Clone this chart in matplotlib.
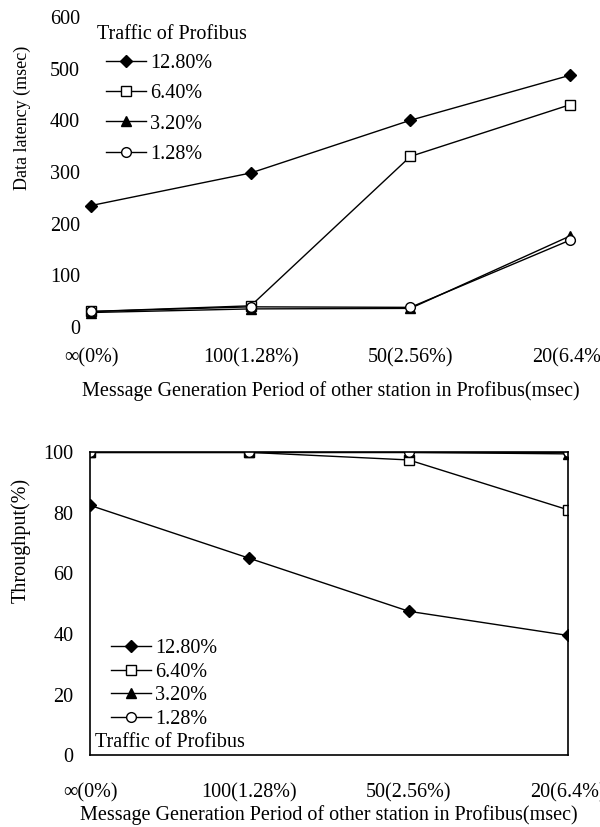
import numpy as np
import matplotlib
matplotlib.use("Agg")
import matplotlib.pyplot as plt

plt.rcParams["font.family"] = ["Liberation Serif", "DejaVu Serif"]
plt.rcParams["font.size"] = 14.5

# x categories (message generation period of other station)
periods = ["\u221e(0%)", "100(1.28%)", "50(2.56%)", "20(6.4%)"]
series = ["12.80%", "6.40%", "3.20%", "1.28%"]

# data latency (msec)
lat_128 = [235, 298, 400, 487]
lat_64 = [30, 41, 330, 430]
lat_32 = [28, 35, 36, 176]
lat_128s = [30, 39, 38, 168]

# throughput (%)
thr_128 = [82.5, 65, 47.5, 39.5]
thr_64 = [100, 100, 97.5, 81]
thr_32 = [100, 100, 100, 99.5]
thr_128s = [100, 100, 100, 100]

styles = [dict(marker="D", mfc="black", ms=6),
          dict(marker="s", mfc="white", ms=7),
          dict(marker="^", mfc="black", ms=7),
          dict(marker="o", mfc="white", ms=7)]

x = np.arange(len(periods))
xlabel = "Message Generation Period of other station in Profibus(msec)"

fig = plt.figure(figsize=(6, 8.27), dpi=100)

#-----------------------------------------------------
# top: data latency
#-----------------------------------------------------
ax1 = fig.add_axes([0.152, 0.6046, 0.798, 0.375])
for ys, lab, st in zip([lat_128, lat_64, lat_32, lat_128s], series, styles):
    ax1.plot(x, ys, color="black", lw=1, mec="black", label=lab, clip_on=False, **st)
ax1.set_xlim(0, 3)
ax1.set_ylim(0, 600)
ax1.set_yticks(np.arange(0, 601, 100))
ax1.set_xticks(x)
ax1.set_xticklabels(periods)
for s in ax1.spines.values():
    s.set_visible(False)
ax1.tick_params(axis="x", length=0, pad=15)
ax1.tick_params(axis="y", length=0, pad=8)
ax1.set_ylabel("Data latency (msec)", fontsize=13)
ax1.yaxis.set_label_coords(-0.125, 0.674)
ax1.set_xlabel(xlabel, labelpad=10)
ax1.legend(loc="upper left", bbox_to_anchor=(0.03, 0.88), frameon=False,
           handlelength=2.0, handletextpad=0.2, labelspacing=0.55,
           borderaxespad=0, borderpad=0)
ax1.text(0.0125, 0.942, "Traffic of Profibus", transform=ax1.transAxes, ha="left", va="center")

#-----------------------------------------------------
# bottom: throughput
#-----------------------------------------------------
ax2 = fig.add_axes([0.15, 0.087, 0.797, 0.366])
for ys, lab, st in zip([thr_128, thr_64, thr_32, thr_128s], series, styles):
    ax2.plot(x, ys, color="black", lw=1, mec="black", label=lab, **st)
ax2.set_xlim(0, 3)
ax2.set_ylim(0, 100)
ax2.set_yticks(np.arange(0, 101, 20))
ax2.set_xticks(x)
ax2.set_xticklabels(periods)
for s in ax2.spines.values():
    s.set_linewidth(1.2)
ax2.tick_params(axis="x", length=0, pad=20)
ax2.tick_params(axis="y", length=0, pad=12)
ax2.set_ylabel("Throughput(%)")
ax2.yaxis.set_label_coords(-0.124, 0.71)
ax2.set_xlabel(xlabel, labelpad=2)
ax2.legend(loc="lower left", bbox_to_anchor=(0.04, 0.08), frameon=False,
           handlelength=2.0, handletextpad=0.2, labelspacing=0.22, borderaxespad=0,
           borderpad=0.1)
ax2.text(0.01, 0.01, "Traffic of Profibus", transform=ax2.transAxes, ha="left", va="bottom")

fig.savefig("out.png", dpi=100)
